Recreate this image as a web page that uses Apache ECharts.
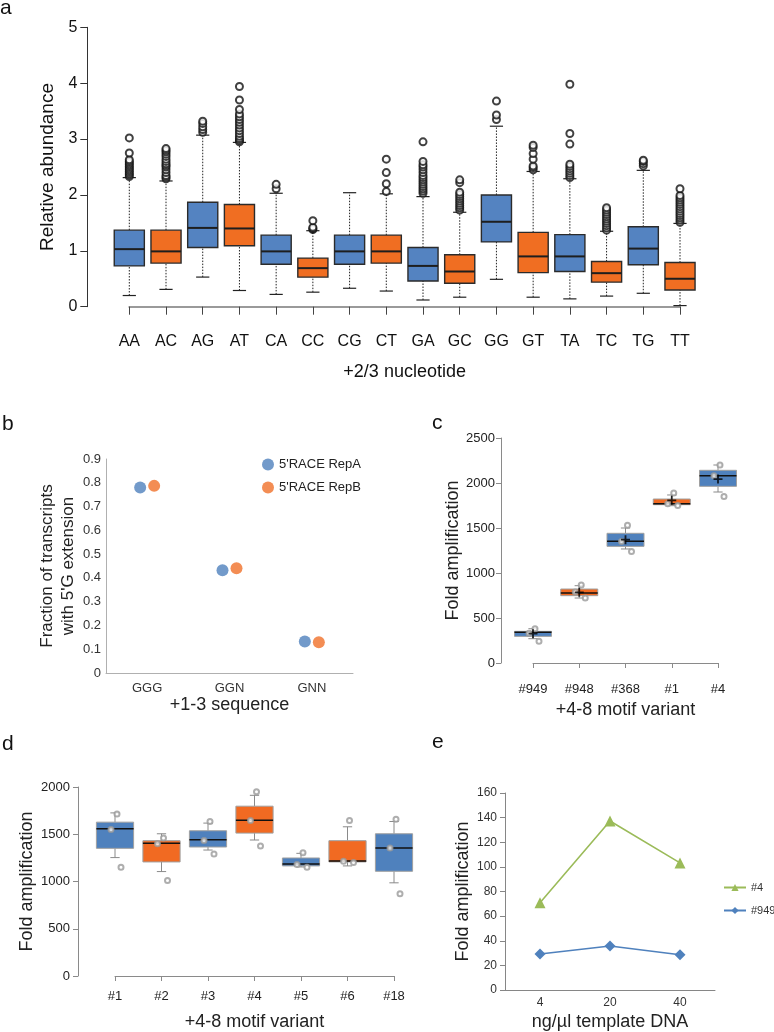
<!DOCTYPE html>
<html><head><meta charset="utf-8">
<script src="https://cdn.jsdelivr.net/npm/echarts@6/dist/echarts.min.js"></script>
<style>html,body{margin:0;padding:0;background:#fff}#c{width:774px;height:1032px}</style>
</head><body><div id="c"></div>
<script>
// ---------- Panel a data ----------
const catsA = ['AA','AC','AG','AT','CA','CC','CG','CT','GA','GC','GG','GT','TA','TC','TG','TT'];
const lowA  = [0.20,0.31,0.53,0.29,0.22,0.26,0.33,0.28,0.12,0.17,0.49,0.17,0.14,0.19,0.24,0.02];
const q1A   = [0.73,0.78,1.06,1.09,0.76,0.53,0.76,0.78,0.46,0.42,1.16,0.61,0.63,0.44,0.75,0.30];
const medA  = [1.03,0.99,1.41,1.40,0.99,0.69,0.99,0.99,0.73,0.63,1.52,0.90,0.90,0.60,1.04,0.50];
const q3A   = [1.37,1.37,1.87,1.83,1.28,0.87,1.28,1.28,1.06,0.93,2.00,1.33,1.29,0.81,1.43,0.79];
const highA = [2.31,2.25,3.07,2.94,2.03,1.36,2.04,2.02,1.97,1.69,3.23,2.42,2.29,1.35,2.44,1.49];
const outA = [
  [2.33,2.36,2.39,2.42,2.45,2.48,2.51,2.54,2.57,2.60,2.63,2.75,3.02],
  [2.29,2.32,2.35,2.40,2.45,2.50,2.53,2.56,2.60,2.64,2.69,2.73,2.77,2.80,2.83],
  [3.12,3.17,3.22,3.28,3.32],
  [2.95,2.98,3.01,3.05,3.10,3.15,3.20,3.25,3.30,3.35,3.40,3.45,3.53,3.70,3.94],
  [2.11,2.19],
  [1.38,1.40,1.42,1.54],
  [],
  [2.06,2.20,2.40,2.64],
  [2.03,2.07,2.11,2.15,2.19,2.23,2.27,2.31,2.35,2.40,2.45,2.50,2.54,2.60,2.95],
  [1.73,1.77,1.81,1.85,1.89,1.93,1.97,2.01,2.05,2.22,2.27],
  [3.35,3.43,3.68],
  [2.45,2.49,2.52,2.64,2.74,2.85,2.89],
  [2.31,2.35,2.39,2.43,2.47,2.51,2.55,2.91,3.10,3.98],
  [1.37,1.41,1.45,1.49,1.53,1.57,1.61,1.65,1.69,1.73,1.77],
  [2.52,2.56,2.60,2.62],
  [1.51,1.55,1.59,1.63,1.67,1.71,1.75,1.79,1.83,1.87,1.91,1.95,1.99,2.11]
];
const ticksA = [0,1,2,3,4,5];

// ---------- Panel b data ----------
const catsB = ['GGG','GGN','GNN'];
const repA = [0.780,0.432,0.132];
const repB = [0.787,0.441,0.129];

// ---------- Panel c data ----------
const catsC = ['#949','#948','#368','#1','#4'];
const lowC  = [270,722,1267,1748,1900];
const q1C   = [296,748,1296,1759,1963];
const medC  = [341,778,1352,1770,2081];
const q3C   = [352,822,1441,1822,2141];
const highC = [381,859,1500,1867,2200];
const meanC = [326,785,1370,1807,2044];
const ptsC  = [[380,330,241],[868,790,722],[1530,1350,1240],[1888,1770,1750],[2200,2080,1850]];

// ---------- Panel d data ----------
const catsD = ['#1','#2','#3','#4','#5','#6','#18'];
const lowD  = [1253,1105,1333,1439,1154,1165,986];
const q1D   = [1351,1207,1365,1512,1165,1207,1108];
const medD  = [1558,1404,1442,1649,1186,1218,1355];
const q3D   = [1628,1432,1537,1797,1249,1432,1505];
const highD = [1726,1505,1618,1912,1298,1579,1635];
const ptsD  = [[1715,1550,1150],[1460,1400,1010],[1635,1435,1290],[1950,1645,1375],[1305,1180,1150],[1645,1215,1200],[1660,1355,870]];

// ---------- Panel e data ----------
const catsE = ['4','20','40'];
const s4   = [70.8,137.3,103.2];
const s949 = [29.2,35.7,28.6];

// ---------- helpers ----------
const BLUE_A = '#5483C1', ORANGE_A = '#F06E22';
const BLUE = '#4F81BD', ORANGE = '#F16A22';
function boxData(lo,q1,md,q3,hi){ return lo.map((v,i)=>[i,lo[i],q1[i],md[i],q3[i],hi[i]]); }
function makeBox(cfg){
  return function(params, api){
    const i = api.value(0);
    const p = [1,2,3,4,5].map(k => api.coord([i, api.value(k)]));
    const step = api.coord([1,0])[0] - api.coord([0,0])[0];
    const x = p[0][0];
    const bw = step*cfg.boxFrac, cw = step*cfg.capFrac;
    const fill = cfg.colors[i%2];
    const wl = {stroke:cfg.whiskerColor, lineWidth:cfg.whiskerWidth, lineDash:cfg.whiskerDash||null};
    const cl = {stroke:cfg.capColor, lineWidth:cfg.capWidth};
    return {type:'group', children:[
      {type:'line', shape:{x1:x,y1:p[0][1],x2:x,y2:p[1][1]}, style:wl},
      {type:'line', shape:{x1:x,y1:p[3][1],x2:x,y2:p[4][1]}, style:wl},
      {type:'line', shape:{x1:x-cw/2,y1:p[0][1],x2:x+cw/2,y2:p[0][1]}, style:cl},
      {type:'line', shape:{x1:x-cw/2,y1:p[4][1],x2:x+cw/2,y2:p[4][1]}, style:cl},
      {type:'rect', shape:{x:x-bw/2,y:p[3][1],width:bw,height:p[1][1]-p[3][1]}, style:{fill:fill, stroke:cfg.boxStroke, lineWidth:cfg.boxLineWidth}},
      {type:'line', shape:{x1:x-bw/2,y1:p[2][1],x2:x+bw/2,y2:p[2][1]}, style:{stroke:cfg.medColor, lineWidth:cfg.medWidth}}
    ]};
  };
}
const jit = [2,-4,6,-1];
function pointData(pts){ const out=[]; pts.forEach((arr,i)=>arr.forEach((v,k)=>out.push({value:[i,v], symbolOffset:[jit[k%jit.length],0]}))); return out; }
const outDataA = []; outA.forEach((arr,i)=>arr.forEach(v=>outDataA.push([i,v])));
const plain = v => String(v);

const SANS = "'Liberation Sans', Arial, sans-serif";
const NARROW = "'Liberation Sans Narrow', 'Arial Narrow', 'Liberation Sans', sans-serif";
const greyAxis = '#8a8a8a';

const chart = echarts.init(document.getElementById('c'), null, {renderer:'canvas'});
const option = {
  animation:false,
  textStyle:{fontFamily:SANS},
  grid:[
    {left:129.3, right:94, top:27.3, bottom:1032-306.7},
    {left:106, right:774-353, top:459, bottom:1032-673},
    {left:533, right:774-718, top:438, bottom:1032-663},
    {left:115, right:774-394, top:787, bottom:1032-977},
    {left:505, right:774-715, top:793, bottom:1032-990}
  ],
  legend:[
    {orient:'vertical', left:257, top:453, icon:'circle', itemWidth:12, itemHeight:12, itemGap:10,
     textStyle:{fontSize:13, color:'#222', fontFamily:SANS}, data:["5'RACE RepA","5'RACE RepB"]},
    {orient:'vertical', left:718, top:877, itemWidth:22, itemHeight:9, itemGap:12,
     textStyle:{fontSize:11, color:'#333', fontFamily:SANS}, data:['#4','#949']}
  ],
  xAxis:[
    {gridIndex:0, type:'category', data:catsA, boundaryGap:false, offset:15,
     axisLine:{lineStyle:{color:'#9a9a9a', width:2}},
     axisTick:{length:8, lineStyle:{color:'#444'}},
     axisLabel:{fontFamily:NARROW, fontSize:16, color:'#111', margin:12},
     name:'+2/3 nucleotide', nameLocation:'middle', nameGap:41,
     nameTextStyle:{fontFamily:NARROW, fontSize:18, color:'#111'}},
    {gridIndex:1, type:'category', data:catsB, boundaryGap:true,
     axisLine:{lineStyle:{color:'#b0b0b0'}}, axisTick:{show:false},
     axisLabel:{fontSize:13, color:'#333', margin:9},
     name:'+1-3 sequence', nameLocation:'middle', nameGap:22,
     nameTextStyle:{fontSize:18, color:'#222'}},
    {gridIndex:2, type:'category', data:catsC, boundaryGap:false, offset:9,
     axisLine:{lineStyle:{color:greyAxis}}, axisTick:{length:5, lineStyle:{color:greyAxis}},
     axisLabel:{fontSize:13, color:'#222', margin:11},
     name:'+4-8 motif variant', nameLocation:'middle', nameGap:29,
     nameTextStyle:{fontSize:18, color:'#222'}},
    {gridIndex:3, type:'category', data:catsD, boundaryGap:false, offset:8,
     axisLine:{lineStyle:{color:greyAxis}}, axisTick:{length:5, lineStyle:{color:greyAxis}},
     axisLabel:{fontSize:13, color:'#222', margin:6},
     name:'+4-8 motif variant', nameLocation:'middle', nameGap:29,
     nameTextStyle:{fontSize:18, color:'#222'}},
    {gridIndex:4, type:'category', data:catsE, boundaryGap:true,
     axisLine:{lineStyle:{color:'#868686'}}, axisTick:{length:5, lineStyle:{color:'#868686'}},
     axisLabel:{fontSize:12, color:'#333', margin:7},
     name:'ng/µl template DNA', nameLocation:'middle', nameGap:23,
     nameTextStyle:{fontSize:18, color:'#222'}}
  ],
  yAxis:[
    {gridIndex:0, type:'value', min:ticksA[0], max:ticksA[ticksA.length-1], interval:1, offset:42,
     axisLine:{show:true, lineStyle:{color:'#333'}}, axisTick:{show:true, length:7, lineStyle:{color:'#333'}},
     splitLine:{show:false}, axisLabel:{fontSize:16, color:'#111', margin:10},
     name:'Relative abundance', nameLocation:'middle', nameGap:29,
     nameTextStyle:{fontSize:19, color:'#111'}},
    {gridIndex:1, type:'value', min:0, max:0.9, interval:0.1,
     axisLine:{show:true, lineStyle:{color:'#b0b0b0'}}, axisTick:{show:false},
     splitLine:{show:false}, axisLabel:{fontSize:13, color:'#333', margin:5},
     name:"Fraction of transcripts\nwith 5'G extension", nameLocation:'middle', nameGap:27,
     nameTextStyle:{fontSize:17, color:'#222', lineHeight:21}},
    {gridIndex:2, type:'value', min:0, max:2500, interval:500, offset:32,
     axisLine:{show:true, lineStyle:{color:greyAxis}}, axisTick:{show:true, length:5, lineStyle:{color:greyAxis}},
     splitLine:{show:false}, axisLabel:{fontSize:13, color:'#222', margin:6, formatter:plain},
     name:'Fold amplification', nameLocation:'middle', nameGap:39,
     nameTextStyle:{fontSize:18, color:'#222'}},
    {gridIndex:3, type:'value', min:0, max:2000, interval:500, offset:37,
     axisLine:{show:true, lineStyle:{color:greyAxis}}, axisTick:{show:true, length:5, lineStyle:{color:greyAxis}},
     splitLine:{show:false}, axisLabel:{fontSize:13, color:'#222', margin:8, formatter:plain},
     name:'Fold amplification', nameLocation:'middle', nameGap:42,
     nameTextStyle:{fontSize:18, color:'#222'}},
    {gridIndex:4, type:'value', min:0, max:160, interval:20,
     axisLine:{show:true, lineStyle:{color:'#868686'}}, axisTick:{show:true, length:5, lineStyle:{color:'#868686'}},
     splitLine:{show:false}, axisLabel:{fontSize:12, color:'#333', margin:8},
     name:'Fold amplification', nameLocation:'middle', nameGap:33,
     nameTextStyle:{fontSize:18, color:'#222'}}
  ],
  graphic:[
    {type:'text', left:0, top:-2, style:{text:'a', fontSize:21, fill:'#111', fontFamily:SANS}},
    {type:'text', left:2, top:414, style:{text:'b', fontSize:21, fill:'#111', fontFamily:SANS}},
    {type:'text', left:432, top:413, style:{text:'c', fontSize:21, fill:'#111', fontFamily:SANS}},
    {type:'text', left:2, top:734, style:{text:'d', fontSize:21, fill:'#111', fontFamily:SANS}},
    {type:'text', left:432, top:732, style:{text:'e', fontSize:21, fill:'#111', fontFamily:SANS}}
  ],
  series:[
    {type:'custom', name:'boxA', xAxisIndex:0, yAxisIndex:0, clip:false,
     renderItem: makeBox({boxFrac:0.82, capFrac:0.36, colors:[BLUE_A,ORANGE_A], whiskerColor:'#222', whiskerWidth:1,
       whiskerDash:[1.5,1.5], capColor:'#222', capWidth:1.2, boxStroke:'#2b2b2b', boxLineWidth:1.4, medColor:'#1e1e1e', medWidth:2}),
     encode:{x:0, y:[1,2,3,4,5]}, data: boxData(lowA,q1A,medA,q3A,highA), z:2},
    {type:'scatter', name:'outA', xAxisIndex:0, yAxisIndex:0, symbol:'emptyCircle', symbolSize:7,
     itemStyle:{color:'#111', borderWidth:0.8}, data:outDataA, z:3},

    {type:'scatter', name:"5'RACE RepA", xAxisIndex:1, yAxisIndex:1, symbol:'circle', symbolSize:12, symbolOffset:[-7,0],
     itemStyle:{color:BLUE}, data:repA},
    {type:'scatter', name:"5'RACE RepB", xAxisIndex:1, yAxisIndex:1, symbol:'circle', symbolSize:12, symbolOffset:[7,0],
     itemStyle:{color:'#F07029'}, data:repB},

    {type:'custom', name:'boxC', xAxisIndex:2, yAxisIndex:2, clip:false,
     renderItem: makeBox({boxFrac:0.8, capFrac:0.2, colors:[BLUE,ORANGE], whiskerColor:'#8a8a8a', whiskerWidth:1,
       capColor:'#8a8a8a', capWidth:1, boxStroke:'#a0a0a0', boxLineWidth:1, medColor:'#111', medWidth:1.5}),
     encode:{x:0, y:[1,2,3,4,5]}, data: boxData(lowC,q1C,medC,q3C,highC), z:2},
    {type:'scatter', name:'ptsC', xAxisIndex:2, yAxisIndex:2, symbol:'emptyCircle', symbolSize:5,
     itemStyle:{color:'#9a9a9a', borderWidth:0.8}, data:pointData(ptsC), z:3},
    {type:'scatter', name:'meanC', xAxisIndex:2, yAxisIndex:2, symbol:'path://M4,0H6V4H10V6H6V10H4V6H0V4H4Z', symbolSize:9,
     itemStyle:{color:'#000'}, data:meanC.map((v,i)=>[i,v]), z:4},

    {type:'custom', name:'boxD', xAxisIndex:3, yAxisIndex:3, clip:false,
     renderItem: makeBox({boxFrac:0.8, capFrac:0.2, colors:[BLUE,ORANGE], whiskerColor:'#8a8a8a', whiskerWidth:1,
       capColor:'#8a8a8a', capWidth:1, boxStroke:'#a0a0a0', boxLineWidth:1, medColor:'#111', medWidth:1.5}),
     encode:{x:0, y:[1,2,3,4,5]}, data: boxData(lowD,q1D,medD,q3D,highD), z:2},
    {type:'scatter', name:'ptsD', xAxisIndex:3, yAxisIndex:3, symbol:'emptyCircle', symbolSize:5,
     itemStyle:{color:'#9a9a9a', borderWidth:0.8}, data:pointData(ptsD), z:3},

    {type:'line', name:'#4', xAxisIndex:4, yAxisIndex:4, symbol:'triangle', symbolSize:11, data:s4,
     lineStyle:{color:'#9BBB59', width:1.6}, itemStyle:{color:'#9BBB59'}},
    {type:'line', name:'#949', xAxisIndex:4, yAxisIndex:4, symbol:'diamond', symbolSize:11, data:s949,
     lineStyle:{color:BLUE, width:1.4}, itemStyle:{color:BLUE}}
  ]
};
chart.setOption(option);
</script></body></html>
